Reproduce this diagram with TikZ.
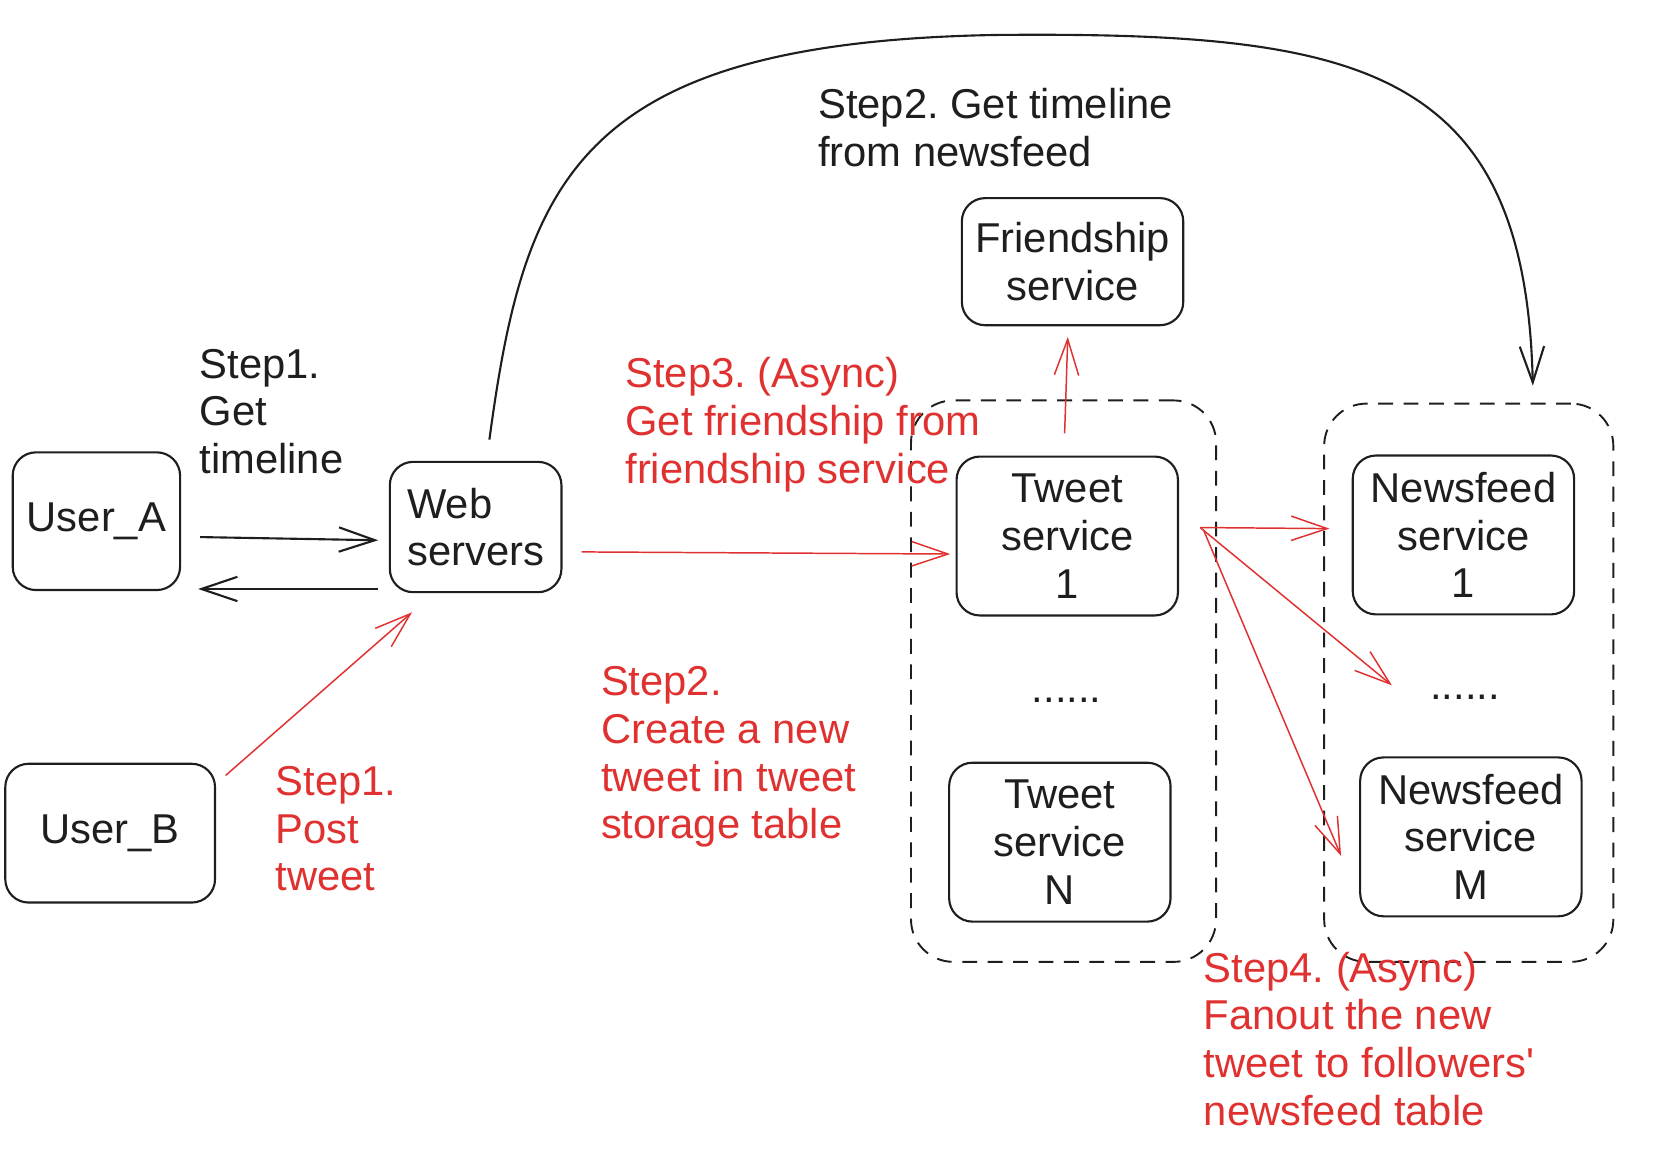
\documentclass[tikz,border=0pt]{standalone}
\usepackage{fontspec}
\setmainfont{Liberation Sans}
\usetikzlibrary{arrows.meta,calc}
\definecolor{exred}{HTML}{E03131}
\definecolor{exblack}{HTML}{1E1E1E}
\frenchspacing

\begin{document}
\begin{tikzpicture}[x=0.5pt,y=-0.5pt,
			font=\fontsize{19.7}{22.5}\selectfont,
			box/.style={draw=exblack,line width=1pt,rounded corners=11pt,inner sep=0pt,align=center,text=exblack},
			svc/.style={box,minimum width=104.5pt,minimum height=75pt},
			grp/.style={draw=exblack,line width=0.9pt,dash pattern=on 7pt off 5pt,rounded corners=20pt},
			lbl/.style={anchor=base west,align=left,inner sep=0pt,text=exblack},
			redlbl/.style={lbl,text=exred},
			arr/.style={draw=exblack,line width=1pt,-{Straight Barb[length=17pt,width=11.5pt]}},
			redarr/.style={draw=exred,line width=0.7pt,-{Straight Barb[length=17pt,width=11.5pt]}}]
			\useasboundingbox (0,0) rectangle (1568,1104);
			\node[box,minimum width=79pt,minimum height=65pt] (userA) at (91,492) {User\_A};
			\node[box,minimum width=99pt,minimum height=65.5pt] (userB) at (104,786.5) {User\_B};
			\node[box,align=left,minimum width=81pt,minimum height=61.5pt] (web) at (449,497.5) {Web\\servers};
			\node[box,minimum width=104.5pt,minimum height=60pt] (friend) at (1012.5,247) {Friendship\\service};
			\node[svc] (tweet1) at (1007.5,506) {Tweet\\service\\1};
			\node[svc] (tweetN) at (1000.5,795) {Tweet\\service\\N};
			\node[svc] (news1) at (1381.5,505) {Newsfeed\\service\\1};
			\node[svc] (newsM) at (1388.5,790) {Newsfeed\\service\\M};
			\node[grp,minimum width=144pt,minimum height=265pt] (tgroup) at (1004,643) {};
			\node[grp,minimum width=136.5pt,minimum height=263.5pt] (ngroup) at (1386.5,644.5) {};
			\node[text=exblack] (dots1) at (1007,661) {......};
			\node[text=exblack] (dots2) at (1383,658) {......};
			\node[lbl] (getA) at (188,447) {Step1.\\Get\\timeline};
			\node[lbl] (getNews) at (772,157) {Step2. Get timeline\\from newsfeed};
			\node[redlbl] (stepFriend) at (590,456) {Step3. (Async)\\Get friendship from\\friendship service};
			\node[redlbl] (stepCreate) at (567,792) {Step2.\\Create a new\\tweet in tweet\\storage table};
			\node[redlbl] (stepPost) at (260,841) {Step1.\\Post\\tweet};
			\node[redlbl] (stepFan) at (1136,1062) {Step4. (Async)\\Fanout the new\\tweet to followers\textquotesingle\\newsfeed table};
			\draw[arr] ($(userA.east)+(18,15)$) -- ($(web.west)+(-10,12.5)$);
			\draw[arr] ($(web.west)+(-10,58.5)$) -- ($(userA.east)+(16,64)$);
			\draw[redarr] ($(userB.north east)+(9,12)$) -- ($(web.south west)+(22,18)$);
			\draw[redarr] ($(web.east)+(18,23.5)$) -- ($(tweet1.west)+(-5,17)$);
			\draw[redarr] ($(tweet1.north)+(-2.5,-21)$) -- ($(friend.south)+(-4.5,10)$);
			\draw[redarr] ($(tweet1.east)+(20,-8)$) -- ($(news1.west)+(-21,-6)$);
			\draw[redarr] ($(tweet1.east)+(20,-8)$) -- ($(dots2)+(-69,-11)$);
			\draw[redarr] ($(tweet1.east)+(23,-6)$) -- ($(newsM.west)+(-17,18)$);
			\draw[arr] ($(web.north)+(13,-20)$) .. controls (495,170) and (545,40) .. (940,33)
				.. controls (1280,30) and (1440,60) .. ($(ngroup.north)+(60.5,-16)$);
		\end{tikzpicture}
\end{document}
